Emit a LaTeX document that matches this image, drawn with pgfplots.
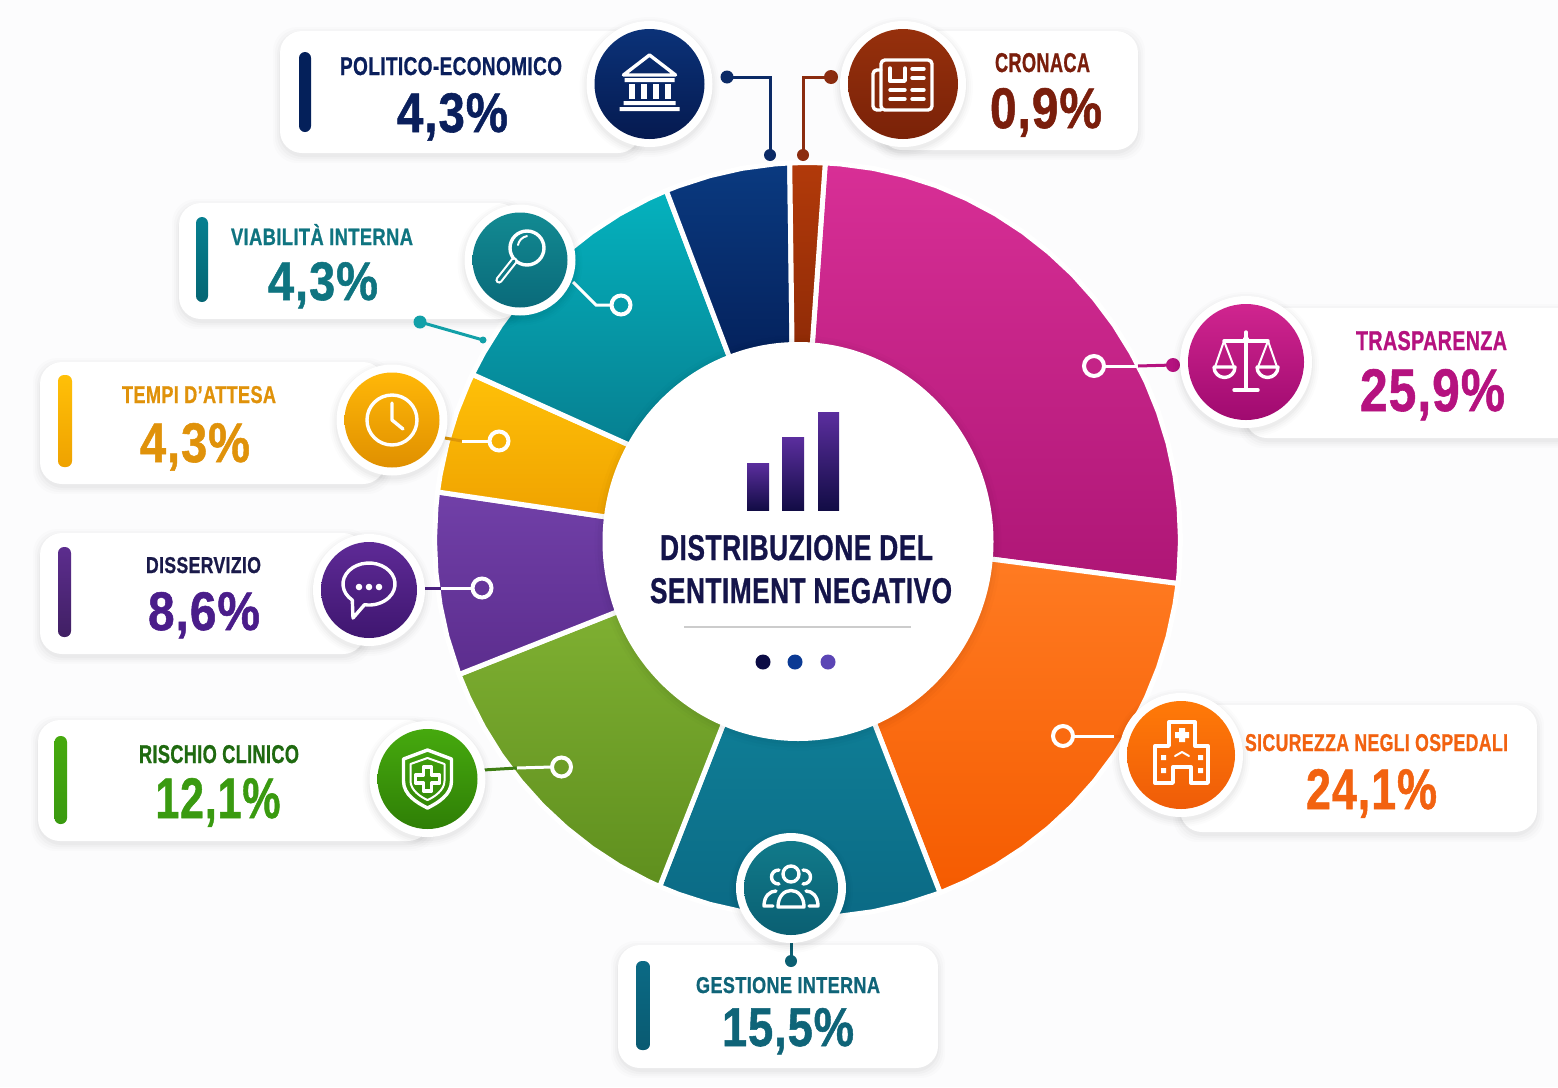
\documentclass[border=0pt]{standalone}
\usepackage{fontspec}
\usepackage{graphicx}
\usepackage{pgfplots}
\usepgfplotslibrary{polar}
\pgfplotsset{compat=1.18}
\setmainfont[LetterSpace=2,BoldFeatures={FakeBold=1}]{Liberation Sans}

\definecolor{bgc}{HTML}{FCFCFD}
\definecolor{navyA}{HTML}{0A3A80}\definecolor{navyB}{HTML}{04205A}
\definecolor{croA}{HTML}{B23A0A}\definecolor{croB}{HTML}{8E2A06}
\definecolor{magA}{HTML}{D82F96}\definecolor{magB}{HTML}{AE1676}
\definecolor{oraA}{HTML}{FF7B22}\definecolor{oraB}{HTML}{F55B00}
\definecolor{gesA}{HTML}{0F7E96}\definecolor{gesB}{HTML}{0B6A85}
\definecolor{greA}{HTML}{7FB032}\definecolor{greB}{HTML}{5F8F1E}
\definecolor{purA}{HTML}{7140A8}\definecolor{purB}{HTML}{5C2D8E}
\definecolor{yelA}{HTML}{FFC008}\definecolor{yelB}{HTML}{EFA200}
\definecolor{teaA}{HTML}{05B2BE}\definecolor{teaB}{HTML}{067F90}
\definecolor{ink}{HTML}{14144A}
\newcommand{\hx}[1]{\definecolor{c#1}{HTML}{#1}}
\hx{0B0B45}\hx{0B3A94}\hx{5B45B5}\hx{46A90E}\hx{3A9A10}\hx{0B2A66}\hx{8B2C0F}\hx{12A0A8}
\hx{DE9608}\hx{4A2080}\hx{3F7F14}\hx{0B5F72}\hx{B5127F}\hx{F26210}\hx{0B3278}\hx{051A50}
\hx{96300C}\hx{7A2208}\hx{128A92}\hx{0A6A7A}\hx{FFB708}\hx{E09000}\hx{5E2A96}\hx{3F1670}
\hx{2F7F06}\hx{117A8A}\hx{0A5F72}\hx{FF7A08}\hx{EF5C08}\hx{D0258F}\hx{A00A70}\hx{0F7A86}
\hx{0A1F5C}\hx{7A1E0C}\hx{0F7480}\hx{E0920A}\hx{1A1A4A}\hx{4A1D8A}\hx{1F6A10}\hx{0F6478}
\hx{5B2E9E}\hx{120C45}

% text box with width and height in picture pixels, base on the baseline
\newcommand{\lab}[6]{\node[anchor=base,inner sep=0pt,text=#5] at (#1,#2)
  {\resizebox{\dimexpr#3pt/2\relax}{\dimexpr#4pt/2\relax}{\bfseries #6}};}
\newcommand{\card}[4]{%
  \foreach \e/\o in {7/.012,5/.016,3/.02,1/.025}{
    \fill[black,opacity=\o,rounded corners=12pt] (#1-\e,#2-\e+3) rectangle (#3+\e,#4+\e+3);}
  \fill[white,rounded corners=11pt] (#1,#2) rectangle (#3,#4);}
\newcommand{\vbar}[6]{\shade[top color=#5,bottom color=#6,rounded corners=3pt] (#1,#2) rectangle (#3,#4);}
\newcommand{\badge}[5]{%
  \foreach \e/\o in {15/.012,13/.016,11/.02,9/.025}{
    \fill[black,opacity=\o] (#1,#2+3) circle[radius=#3+\e];}
  \fill[white] (#1,#2) circle[radius=#3+8];
  \shade[top color=#4,bottom color=#5] (#1,#2) circle[radius=#3];}

\begin{document}
\begin{tikzpicture}[x=0.5pt,y=-0.5pt,
    ic/.style={draw=white,line width=1.7pt,line cap=round,line join=round},
    thin ic/.style={draw=white,line width=1pt,line cap=round,line join=round}]
  \path[use as bounding box] (0,0) rectangle (1558,1087);
  \fill[bgc] (0,0) rectangle (1558,1087);

  \begin{polaraxis}[
    at={(217.75pt,-456pt)}, anchor=south west,
    scale only axis, width=372pt, height=372pt,
    xmin=0, xmax=360, ymin=0, ymax=372,
    hide axis, clip=false,
    wedge/.style n args={2}{draw=white,line width=2.5pt,line join=round,no markers,
      shade,top color=#1,bottom color=#2},
  ]
    % angle, radius of each slice
    \addplot[wedge={magA}{magB}] coordinates {(87.3,377.5)(85,377.5)(80,377.4)(75,377.2)(70,377)(65,376.7)(60,376.4)(55,376)(50,375.6)
      (45,375.3)(40,374.9)(35,374.5)(30,374.1)(25,373.8)(20,373.5)(15,373.3)(10,373.1)(5,373)(0,373)(-5,373)(-6.7,373.1)(-5.8,172)(88.8,182)} --cycle;
    \addplot[wedge={oraA}{oraB}] coordinates {(-6.7,373.1)(-10,373.1)(-15,373.3)(-20,373.5)(-25,373.8)(-30,374.1)(-35,374.5)(-40,374.9)(-45,375.3)
      (-50,375.6)(-55,376)(-60,376.4)(-65,376.7)(-69.4,377)(-70,182)(-5.8,172)} --cycle;
    \addplot[wedge={gesA}{gesB}] coordinates {(-69.4,377)(-75,377.2)(-80,377.4)(-85,377.5)(-90,377.5)(-95,377.5)(-100,377.4)(-105,377.2)
      (-110,377)(-113.1,376.8)(-114.8,189)(-70,182)} --cycle;
    \addplot[wedge={greA}{greB}] coordinates {(246.9,376.8)(245,376.7)(240,376.4)(235,376)(230,375.6)(225,375.3)(220,374.9)(215,374.5)
      (210,374.1)(205,373.8)(201.1,373.6)(200.6,192)(245.2,189)} --cycle;
    \addplot[wedge={purA}{purB}] coordinates {(201.1,373.6)(195,373.3)(190,373.1)(185,373)(180,373)(175,373)(172.6,373.1)(173.6,190)(200.6,192)} --cycle;
    \addplot[wedge={yelA}{yelB}] coordinates {(172.6,373.1)(170,373.1)(165,373.3)(160,373.5)(155,373.8)(153.7,373.9)(151.7,190)(173.6,190)} --cycle;
    \addplot[wedge={teaA}{teaB}] coordinates {(153.7,373.9)(150,374.1)(145,374.5)(140,374.9)(135,375.3)(130,375.6)(125,376)(120,376.4)
      (115,376.7)(112,376.9)(113.3,185)(151.7,190)} --cycle;
    \addplot[wedge={navyA}{navyB}] coordinates {(112,376.9)(110,377)(105,377.2)(100,377.4)(95,377.5)(92.7,377.5)(94.8,183)(113.3,185)} --cycle;
    \addplot[wedge={croA}{croB}] coordinates {(92.7,377.5)(90,377.5)(87.3,377.5)(88.8,182)(94.8,183)} --cycle;
  \end{polaraxis}

  % centre disc
  \foreach \e/\o in {8/.012,5/.018,2/.025}{
    \fill[black,opacity=\o] (798,543) ellipse[x radius=195.5+\e,y radius=199.5+\e];}
  \fill[white] (798,541.5) ellipse[x radius=195.5,y radius=199.5];
  \shade[top color=c5B2E9E,bottom color=c120C45] (747,463) rectangle (769,510);
  \shade[top color=c5B2E9E,bottom color=c120C45] (782,437) rectangle (804,510);
  \shade[top color=c5B2E9E,bottom color=c120C45] (818,412) rectangle (839,510);
  \lab{796.5}{560}{273}{25}{ink}{DISTRIBUZIONE DEL}
  \lab{801}{603}{302}{25}{ink}{SENTIMENT NEGATIVO}
  \draw[black!20,line width=.7pt] (684,627) -- (911,627);
  \fill[c0B0B45] (763,662) circle[radius=7.5];
  \fill[c0B3A94] (795,662) circle[radius=7.5];
  \fill[c5B45B5] (828,662) circle[radius=7.5];

  % cards
  \card{280}{31}{640}{153}
  \card{880}{31}{1138}{150}
  \card{179}{203}{520}{319}
  \card{40}{362}{385}{484}
  \card{40}{533}{365}{654}
  \card{38}{720}{430}{841}
  \card{618}{945}{938}{1068}
  \card{1180}{705}{1537}{832}
  \card{1245}{308}{1580}{438}

  \vbar{299}{52}{311}{132}{navyB}{navyB}
  \vbar{196}{217}{208}{302}{teaB}{teaB!80!black}
  \vbar{58}{375}{72}{467}{yelA}{yelB}
  \vbar{58}{547}{71}{637}{purB}{purB!70!black}
  \vbar{54.5}{736}{67}{824}{c46A90E}{c3A9A10}
  \vbar{636}{961}{650}{1050}{gesB}{gesB!85!black}

  % connectors
  \draw[c0B2A66,line width=1.5pt] (727,77) -- (770,77) -- (770,155);
  \fill[c0B2A66] (727,77) circle[radius=6.5] (770,155) circle[radius=6];
  \draw[c8B2C0F,line width=1.5pt] (831,77) -- (803,77) -- (803,155);
  \fill[c8B2C0F] (831,77) circle[radius=7] (803,155) circle[radius=6];
  \draw[c12A0A8,line width=1.5pt] (420,322) -- (483,340);
  \fill[c12A0A8] (420,322) circle[radius=6.5] (483,340) circle[radius=3.5];
  \draw[white,line width=1.5pt] (573,282) -- (596,305) -- (611,305);
  \draw[white,line width=2pt] (621,305) circle[radius=9.5];
  \draw[cDE9608,line width=1.5pt] (445,438) -- (462,441);
  \draw[white,line width=1.5pt] (462,441) -- (489,441);
  \draw[white,line width=2pt] (499,441) circle[radius=9.5];
  \draw[c4A2080,line width=1.5pt] (424,588) -- (441,588);
  \draw[white,line width=1.5pt] (441,588) -- (472,588);
  \draw[white,line width=2pt] (482,588) circle[radius=9.5];
  \draw[c3F7F14,line width=1.5pt] (483,770) -- (517,768);
  \draw[white,line width=1.5pt] (517,768) -- (552,767);
  \draw[white,line width=2pt] (561.5,767) circle[radius=9.5];
  \draw[c0B5F72,line width=1.5pt] (791,935) -- (791,961);
  \fill[c0B5F72] (791,961) circle[radius=6];
  \draw[white,line width=1.5pt] (1105,366) -- (1138,366);
  \draw[cB5127F,line width=1.5pt] (1138,366) -- (1173,365);
  \fill[cB5127F] (1173,365) circle[radius=7];
  \draw[white,line width=2pt] (1094,366) circle[radius=10];
  \draw[white,line width=1.5pt] (1074,736) -- (1114,736);
  \draw[cF26210,line width=1.5pt] (1114,736) -- (1126,736);
  \draw[white,line width=2pt] (1063,736) circle[radius=10];

  % badges
  \badge{649.5}{84}{55}{c0B3278}{c051A50}
  \badge{903}{84}{55}{c96300C}{c7A2208}
  \badge{520}{260}{47.5}{c128A92}{c0A6A7A}
  \badge{392}{420}{47.5}{cFFB708}{cE09000}
  \badge{369}{590}{48}{c5E2A96}{c3F1670}
  \badge{427.5}{779}{50}{c46A90E}{c2F7F06}
  \badge{791}{888}{47}{c117A8A}{c0A5F72}
  \badge{1181}{755}{54}{cFF7A08}{cEF5C08}
  \badge{1246}{362}{58}{cD0258F}{cA00A70}

  % bank
  \begin{scope}[shift={(649.5,84)}]
    \draw[ic] (0,-29) -- (-26,-9) -- (26,-9) -- cycle;
    \fill[white] (-25,-6) rectangle (25,-2) (-26,17) rectangle (26,21) (-30,23) rectangle (30,27);
    \foreach \x in {-18,-6,6,18}{\fill[white] (\x-3,0) rectangle (\x+3,15);}
  \end{scope}
  % newspaper
  \begin{scope}[shift={(903,84)}]
    \draw[ic,rounded corners=2pt] (-22,-24) rectangle (29,26);
    \draw[ic,rounded corners=2pt] (-22,-14) -- (-30,-14) -- (-30,26) -- (-22,26);
    \draw[ic] (-13,-16) -- (-13,-3) -- (2,-3) -- (2,-16);
    \draw[ic] (9,-15) -- (21,-15) (9,-6) -- (21,-6) (-13,6) -- (2,6) (9,6) -- (21,6) (-13,15) -- (2,15) (9,15) -- (21,15);
  \end{scope}
  % magnifier
  \begin{scope}[shift={(520,260)}]
    \draw[ic] (7,-12) circle[radius=17];
    \draw[thin ic] (-2,-15) arc[start angle=190,end angle=260,radius=11];
    \draw[white,line width=3.6pt,line cap=round] (-6,1) -- (-21,20);
    \draw[c0F7A86,line width=1.5pt,line cap=round] (-6,1) -- (-21,20);
  \end{scope}
  % clock
  \begin{scope}[shift={(392,420)}]
    \draw[ic] (0,0) circle[radius=25];
    \draw[ic] (0,-17) -- (0,0) -- (11,9);
  \end{scope}
  % speech bubble
  \begin{scope}[shift={(369,590)}]
    \draw[ic] (-16.7,10.1) arc[start angle=130,end angle=460,x radius=26,y radius=21] -- (-16,28) -- cycle;
    \fill[white] (-10,-3) circle[radius=3.3] (0,-3) circle[radius=3.3] (10,-3) circle[radius=3.3];
  \end{scope}
  % shield
  \begin{scope}[shift={(427.5,779)}]
    \draw[ic] (0,-29) -- (24,-20) -- (24,2) .. controls (24,16) and (10,24) .. (0,29)
      .. controls (-10,24) and (-24,16) .. (-24,2) -- (-24,-20) -- cycle;
    \draw[thin ic] (0,-21) -- (17,-15) -- (17,2) .. controls (17,11) and (7,18) .. (0,21)
      .. controls (-7,18) and (-17,11) .. (-17,2) -- (-17,-15) -- cycle;
    \draw[ic] (-4,-12) -- (4,-12) -- (4,-4) -- (12,-4) -- (12,4) -- (4,4) -- (4,12) -- (-4,12)
      -- (-4,4) -- (-12,4) -- (-12,-4) -- (-4,-4) -- cycle;
  \end{scope}
  % people
  \begin{scope}[shift={(791,888)}]
    \draw[ic] (0,-14) circle[radius=8];
    \draw[ic] (-13,19) .. controls (-13,-3) and (13,-3) .. (13,19) -- cycle;
    \draw[ic] (-12,-18) .. controls (-22,-18) and (-22,-4) .. (-12,-4);
    \draw[ic] (12,-18) .. controls (22,-18) and (22,-4) .. (12,-4);
    \draw[ic] (-18,18) -- (-27,18) .. controls (-27,8) and (-21,3) .. (-15,3);
    \draw[ic] (18,18) -- (27,18) .. controls (27,8) and (21,3) .. (15,3);
  \end{scope}
  % hospital
  \begin{scope}[shift={(1181,755)}]
    \draw[ic] (-26,-9) -- (-12,-9) -- (-12,-33) -- (14,-33) -- (14,-9) -- (27,-9) -- (27,28)
      -- (10,28) -- (10,12) -- (-8,12) -- (-8,28) -- (-26,28) -- cycle;
    \fill[white] (-2,-27) rectangle (4,-13) (-6,-23) rectangle (8,-17);
    \fill[white] (-20,0) rectangle (-15,5) (-20,13) rectangle (-15,18) (17,0) rectangle (22,5) (17,13) rectangle (22,18);
    \draw[thin ic] (-6,1) -- (1,-3) -- (8,1);
  \end{scope}
  % scales
  \begin{scope}[shift={(1246,362)}]
    \draw[ic] (0,-30) -- (0,26) (-12,28) -- (12,28) (-22,-21) -- (22,-21);
    \fill[white] (0,-22) circle[radius=3.5];
    \draw[thin ic] (-22,-21) -- (-31,5) (-22,-21) -- (-12,5) (22,-21) -- (12,5) (22,-21) -- (31,5);
    \draw[ic] (-32,5) -- (-11,5) arc[start angle=0,end angle=180,radius=10.5];
    \draw[ic] (11,5) -- (32,5) arc[start angle=0,end angle=180,radius=10.5];
  \end{scope}

  % texts
  \lab{451}{75}{222}{18}{c0A1F5C}{POLITICO-ECONOMICO}
  \lab{452.5}{132}{111}{39}{c0A1F5C}{4,3\%}
  \lab{1042.5}{72}{95}{19}{c7A1E0C}{CRONACA}
  \lab{1046}{128}{112}{40}{c7A1E0C}{0,9\%}
  \lab{322}{245}{182}{21}{c0F7480}{VIABILITÀ INTERNA}
  \lab{323}{300}{110}{38}{c0F7480}{4,3\%}
  \lab{199}{403}{154}{17}{cE0920A}{TEMPI D’ATTESA}
  \lab{195}{462}{110}{39}{cE0920A}{4,3\%}
  \lab{203.5}{573}{115}{16}{c1A1A4A}{DISSERVIZIO}
  \lab{204}{630}{112}{38}{c4A1D8A}{8,6\%}
  \lab{219}{763}{160}{18}{c1F6A10}{RISCHIO CLINICO}
  \lab{218}{818}{125}{40}{c3A9A10}{12,1\%}
  \lab{788}{993}{184}{16}{c0F6478}{GESTIONE INTERNA}
  \lab{788}{1046}{132}{38}{c0F6478}{15,5\%}
  \lab{1376.5}{751}{263}{17}{cF26210}{SICUREZZA NEGLI OSPEDALI}
  \lab{1371.5}{809}{131}{40}{cF26210}{24,1\%}
  \lab{1431.5}{350}{151}{19}{cB5127F}{TRASPARENZA}
  \lab{1432.5}{411}{145}{42}{cB5127F}{25,9\%}
\end{tikzpicture}
\end{document}
